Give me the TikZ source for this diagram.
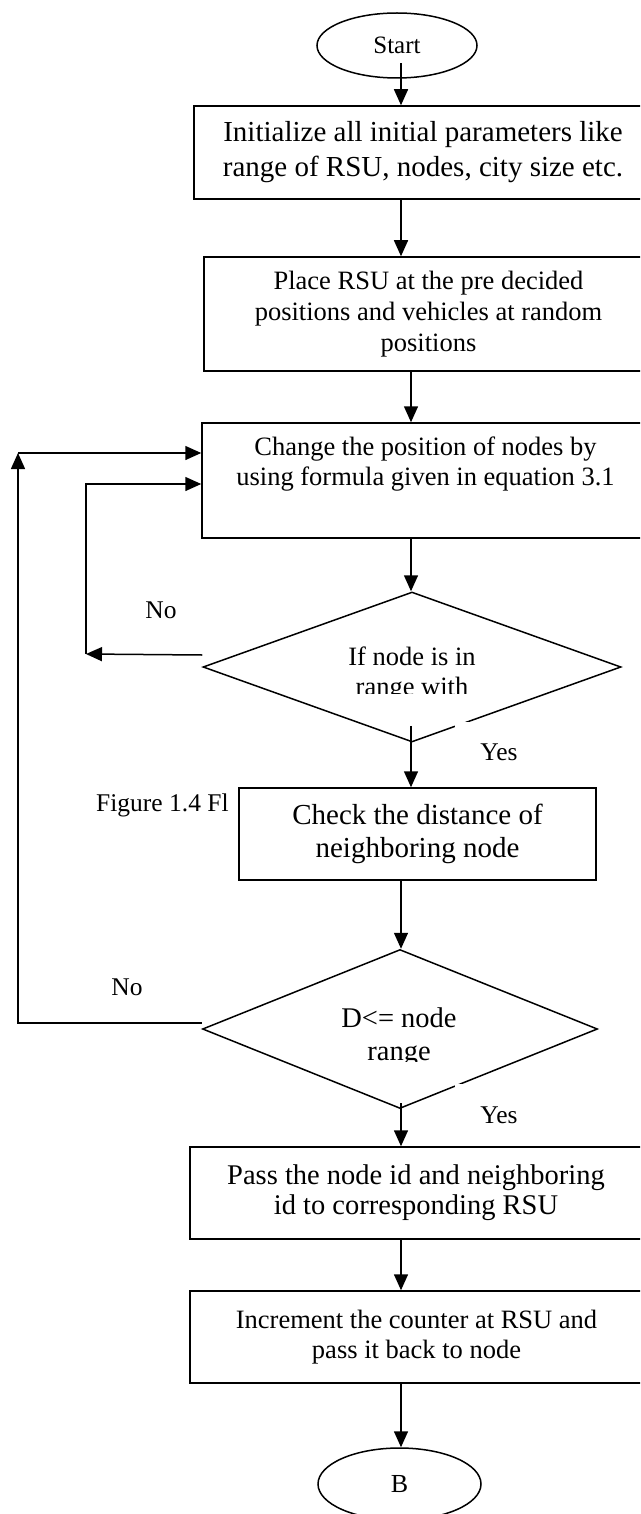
\documentclass[tikz,border=0pt]{standalone}
\usepackage{fontspec}
\setmainfont{Liberation Serif}
\usetikzlibrary{arrows.meta,shapes.geometric,calc}
\begin{document}
\begin{tikzpicture}[x=1pt,y=-1pt,
  lw/.style={line width=1.5pt},
  box/.style={draw, lw, fill=white, rectangle, inner sep=0pt, align=center},
  term/.style={draw, lw, ellipse, inner sep=0pt},
  dec/.style={draw, lw, diamond, inner sep=0pt},
  arr/.style={lw, -{Triangle[length=16pt,width=14pt]}},
  lbl/.style={inner sep=0pt, font=\fontsize{25.5}{30}\selectfont},
  fa/.style={font=\fontsize{26.5}{30}\selectfont},
  fb/.style={font=\fontsize{26.5}{31}\selectfont},
  fc/.style={font=\fontsize{29}{35}\selectfont},
  fd/.style={font=\fontsize{29}{33}\selectfont},
  fe/.style={font=\fontsize{28.5}{30}\selectfont},
  ff/.style={font=\fontsize{28.5}{33}\selectfont},
]
\clip (0,0) rectangle (640,1514);
\fill[white] (0,0) rectangle (640,1514);

\coordinate (c401) at (401,0);
\coordinate (c411) at (411,0);

% terminals and boxes
\node[term, minimum width=160pt, minimum height=65pt, font=\fontsize{25}{30}\selectfont] (start) at (397,45.5) {Start};
\node[box, fc, minimum width=458pt, minimum height=93pt] (b1) at (423,152.5)
  {Initialize all initial parameters like\\range of RSU, nodes, city size etc.};
\node[box, fb, minimum width=449pt, minimum height=114pt] (b2) at (428.5,314)
  {Place RSU at the pre decided\\positions and vehicles at random\\positions};
\node[box, fa, minimum width=447pt, minimum height=115pt] (b3) at (425.5,480.5)
  {Change the position of nodes by\\using formula given in equation 3.1\\\strut};

% decision 1
\node[dec, minimum width=418pt, minimum height=150pt] (d1) at (412,667) {};
\begin{scope}
  \clip (300,630) rectangle (520,693);
  \node[fa, align=center, inner sep=0pt] (d1t) at (412,674) {If node is in\\range with};
\end{scope}
\node[lbl, fill=white, minimum width=88pt, minimum height=60pt] (yes1) at (499,752) {Yes};
\node[lbl] (no1) at (161,610) {No};

% caption partly hidden
\node[lbl, anchor=west] (cap) at (96,805) {Figure 1.4 Fl};

\node[box, fd, minimum width=357pt, minimum height=92pt] (b4) at (417.5,834)
  {Check the distance of\\neighboring node};

% decision 2
\node[dec, minimum width=395pt, minimum height=159pt] (d2) at (400,1029) {};
\begin{scope}
  \clip (300,990) rectangle (520,1061);
  \node[ff, align=center, inner sep=0pt] (d2t) at (399,1037) {D<= node\\range};
\end{scope}
\node[lbl, fill=white, minimum width=88pt, minimum height=62pt] (yes2) at (499,1115) {Yes};
\node[lbl] (no2) at (127,987) {No};

\node[box, fe, minimum width=452pt, minimum height=92pt] (b5) at (416,1193)
  {Pass the node id and neighboring\\id to corresponding RSU};
\node[box, fa, minimum width=453pt, minimum height=92pt] (b6) at (416.5,1337)
  {Increment the counter at RSU and\\pass it back to node};
\node[term, minimum width=163pt, minimum height=72pt, font=\fontsize{26}{30}\selectfont] (bend) at (399.5,1484) {B};

% main flow
\draw[arr] ($(start.center -| c401)+(0,18)$) -- (b1.north -| c401);
\draw[arr] (b1.south -| c401) -- (b2.north -| c401);
\draw[arr] (b2.south -| c411) -- (b3.north -| c411);
\draw[arr] (b3.south -| c411) -- (d1.north -| c411);
\draw[arr] ($(d1.south -| c411)+(0,-17)$) -- (b4.north -| c411);
\draw[arr] (b4.south -| c401) -- (d2.north -| c401);
\draw[arr] ($(d2.south -| c401)+(0,-6)$) -- (b5.north -| c401);
\draw[arr] (b5.south -| c401) -- (b6.north -| c401);
\draw[arr] (b6.south -| c401) -- (bend.north -| c401);

% loops
\coordinate (b3lo) at ($(b3.west)+(0,3.5)$);
\coordinate (b3hi) at ($(b3.west)+(0,-27.5)$);
\coordinate (n1) at (86,654);
\coordinate (o1) at (18,1023);
\draw[arr] ($(d1.west)+(0,-12)$) -- (n1);
\draw[arr] (n1) -- (n1 |- b3lo) -- (b3lo);
\draw[arr] ($(d2.west)+(0,-6)$) -- (o1) -- (o1 |- b3hi);
\draw[arr] (o1 |- b3hi) -- (b3hi);
\end{tikzpicture}
\end{document}
